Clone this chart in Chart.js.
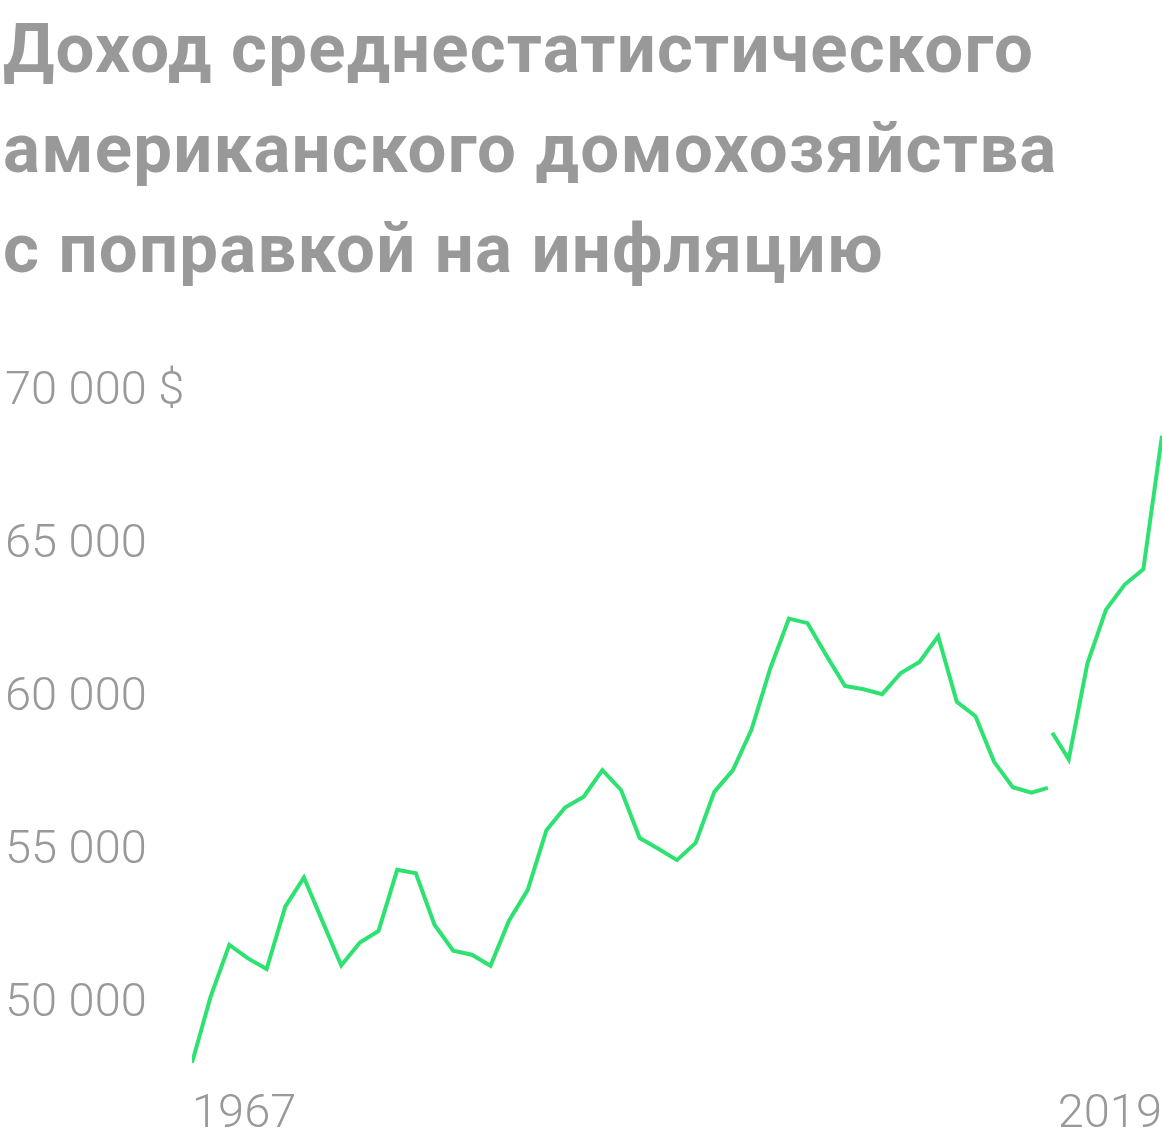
<!DOCTYPE html>
<html>
<head>
<meta charset="utf-8">
<script src="https://cdn.jsdelivr.net/npm/chart.js@4/dist/chart.umd.min.js"></script>
<style>
  html, body { margin: 0; padding: 0; background: #fff; }
  body { width: 1163px; height: 1144px; position: relative; overflow: hidden; }
  #title {
    position: absolute; left: 3px; top: -1px;
    font-family: Roboto, sans-serif; font-weight: 700;
    font-size: 69px; line-height: 100px; color: #999;
    letter-spacing: 1.2px; white-space: nowrap;
  }
  #wrap { position: absolute; left: 0; top: 352px; width: 1163px; height: 810px; }
</style>
</head>
<body>
<div id="title">Доход среднестатистического<br>американского домохозяйства<br>с поправкой на инфляцию</div>
<div id="wrap"><canvas id="myChart"></canvas></div>
<script>
'use strict';
// old method, up to 2013
const years1 = [1967, 1968, 1969, 1970, 1971, 1972, 1973, 1974, 1975, 1976, 1977, 1978, 1979, 1980, 1981, 1982, 1983, 1984, 1985, 1986, 1987, 1988, 1989, 1990, 1991, 1992, 1993, 1994, 1995, 1996, 1997, 1998, 1999, 2000, 2001, 2002, 2003, 2004, 2005, 2006, 2007, 2008, 2009, 2010, 2011, 2012, 2012.88];
const income1 = [48090, 50250, 51940, 51500, 51150, 53190, 54140, 52700, 51270, 52020, 52400, 54390, 54280, 52600, 51750, 51620, 51260, 52740, 53740, 55690, 56430, 56780, 57650, 57000, 55430, 55080, 54710, 55270, 56940, 57650, 58980, 60970, 62600, 62450, 61400, 60400, 60290, 60130, 60820, 61180, 62020, 59880, 59410, 57920, 57090, 56910, 57070];
// new method, from 2013
const years2 = [2013.12, 2014, 2015, 2016, 2017, 2018, 2019];
const income2 = [58870, 58000, 61130, 62890, 63710, 64210, 68570];

const yTicks = [50000, 55000, 60000, 65000, 70000];
const xTicks = [1967, 2019];

const gray = '#999';
const green = '#2ee272';

function toPoints(xs, ys) {
  let pts = [];
  for (let i = 0; i < xs.length; i++) {
    pts.push({x: xs[i], y: ys[i]});
  }
  return pts;
}

function money(v) {
  let s = String(v).replace(/\B(?=(\d{3})+(?!\d))/g, ' ');
  if (v === yTicks[yTicks.length - 1]) s += ' $';
  return s;
}

const ctx = document.getElementById('myChart').getContext('2d');
const chart = new Chart(ctx, {
  type: 'line',
  data: {
    datasets: [{
      data: toPoints(years1, income1),
      borderColor: green,
      borderWidth: 4,
      pointRadius: 0,
      tension: 0
    },
    {
      data: toPoints(years2, income2),
      borderColor: green,
      borderWidth: 4,
      pointRadius: 0,
      tension: 0
    }]
  },
  options: {
    responsive: true,
    maintainAspectRatio: false,
    animation: false,
    layout: {padding: {left: 5, right: 1, top: 40, bottom: 1}},
    plugins: {legend: {display: false}, tooltip: {enabled: false}},
    scales: {
      x: {
        type: 'linear',
        min: 1967,
        max: 2019,
        grid: {display: false, drawTicks: false},
        border: {display: false},
        afterBuildTicks: function (scale) {
          scale.ticks = xTicks.map(v => ({value: v}));
        },
        afterFit: function (scale) {
          scale.paddingLeft = 0;
          scale.paddingRight = 0;
        },
        ticks: {
          align: 'inner',
          padding: 18,
          maxRotation: 0,
          color: gray,
          font: {family: 'Roboto', size: 47, weight: 300},
          callback: v => String(v)
        }
      },
      y: {
        min: 47900,
        max: 70000,
        grid: {display: false, drawTicks: false},
        border: {display: false},
        afterBuildTicks: function (scale) {
          scale.ticks = yTicks.map(v => ({value: v}));
        },
        afterFit: function (scale) {
          scale.width = 187;
        },
        ticks: {
          crossAlign: 'far',
          color: gray,
          font: {family: 'Roboto', size: 47, weight: 300},
          callback: v => money(v)
        }
      }
    }
  }
});
</script>
</body>
</html>
